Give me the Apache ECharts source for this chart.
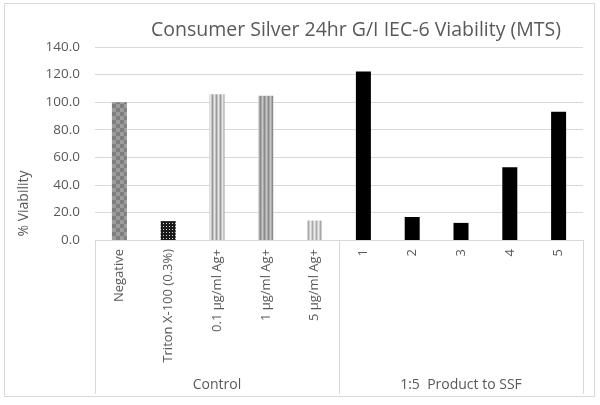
<!DOCTYPE html>
<html>
<head>
<meta charset="utf-8">
<script src="https://cdn.jsdelivr.net/npm/echarts@6/dist/echarts.min.js"></script>
<style>
html,body{margin:0;padding:0;background:#fff;}
#frame{position:absolute;left:4px;top:3px;width:591px;height:394px;border:1px solid #d9d9d9;box-sizing:border-box;}
#chart{position:absolute;left:0;top:0;width:600px;height:405px;}
</style>
</head>
<body>
<div id="frame"></div>
<div id="chart"></div>
<script>
var title = 'Consumer Silver 24hr G/I IEC-6 Viability (MTS)';
var yAxisName = '% Viability';
var categories = ['Negative', 'Triton X-100 (0.3%)', '0.1 \u00b5g/ml Ag+', '1 \u00b5g/ml Ag+', '5 \u00b5g/ml Ag+', '1', '2', '3', '4', '5'];
var groups = ['Control', '1:5  Product to SSF'];
var values = [100.0, 13.7, 105.8, 104.6, 14.1, 122.2, 16.7, 12.4, 52.7, 93.0];
var yTicks = [0, 20, 40, 60, 80, 100, 120, 140];

function makePattern(w, h, draw) {
  var c = document.createElement('canvas');
  c.width = w; c.height = h;
  var ctx = c.getContext('2d');
  draw(ctx);
  return { image: c, repeat: 'repeat' };
}
var patterns = [
  makePattern(8, 8, function (ctx) {
    ctx.fillStyle = '#9c9c9c'; ctx.fillRect(0, 0, 8, 8);
    ctx.fillStyle = '#7e7e7e'; ctx.fillRect(0, 0, 4, 4); ctx.fillRect(4, 4, 4, 4);
  }),
  makePattern(3, 3, function (ctx) {
    ctx.fillStyle = '#1a1a1a'; ctx.fillRect(0, 0, 3, 3);
    ctx.fillStyle = '#d8d8d8'; ctx.fillRect(1, 1, 1, 1);
  }),
  makePattern(4, 4, function (ctx) {
    ctx.fillStyle = '#e6e6e6'; ctx.fillRect(0, 0, 4, 4);
    ctx.fillStyle = '#9a9a9a'; ctx.fillRect(0, 0, 1, 4);
    ctx.fillStyle = '#c4c4c4'; ctx.fillRect(1, 0, 1, 4); ctx.fillRect(3, 0, 1, 4);
  }),
  makePattern(4, 4, function (ctx) {
    ctx.fillStyle = '#c8c8c8'; ctx.fillRect(0, 0, 4, 4);
    ctx.fillStyle = '#8a8a8a'; ctx.fillRect(0, 0, 1, 4);
    ctx.fillStyle = '#a8a8a8'; ctx.fillRect(1, 0, 1, 4); ctx.fillRect(3, 0, 1, 4);
  }),
  makePattern(4, 4, function (ctx) {
    ctx.fillStyle = '#ebebeb'; ctx.fillRect(0, 0, 4, 4);
    ctx.fillStyle = '#a8a8a8'; ctx.fillRect(0, 0, 1, 4);
    ctx.fillStyle = '#cfcfcf'; ctx.fillRect(1, 0, 1, 4); ctx.fillRect(3, 0, 1, 4);
  })
];

var seriesData = values.map(function (v, i) {
  return { value: v, itemStyle: { color: i < patterns.length ? patterns[i] : '#000000' } };
});

var chart = echarts.init(document.getElementById('chart'), null, { renderer: 'canvas' });
var txt = '#595959';
chart.setOption({
  animation: false,
  backgroundColor: 'transparent',
  title: {
    text: title,
    left: 351, top: 15, textAlign: 'center',
    textStyle: { fontFamily: 'Open Sans', fontWeight: 'normal', fontSize: 19.5, color: txt }
  },
  grid: { left: 95, right: 17, top: 47, bottom: 165, containLabel: false },
  xAxis: [
    {
      type: 'category', data: categories, position: 'bottom',
      axisLine: { show: true, lineStyle: { color: '#d9d9d9', width: 1 } },
      axisTick: { show: false },
      axisLabel: { rotate: 90, interval: 0, margin: 9, color: txt, fontSize: 13, fontFamily: 'Open Sans' }
    },
    {
      type: 'category', data: groups, position: 'bottom',
      axisLine: { show: false },
      axisTick: { show: true, length: 154, alignWithLabel: false, lineStyle: { color: '#d9d9d9', width: 1 } },
      axisLabel: { interval: 0, margin: 138, color: txt, fontSize: 14, fontFamily: 'Open Sans' }
    }
  ],
  yAxis: {
    type: 'value', min: 0, max: 140, interval: 20,
    name: yAxisName, nameLocation: 'middle', nameGap: 64, nameRotate: 90,
    nameTextStyle: { color: txt, fontSize: 14, fontFamily: 'Open Sans', padding: [0, 0, 0, -120] },
    axisLine: { show: false }, axisTick: { show: false },
    axisLabel: { color: txt, fontSize: 13.5, fontFamily: 'Open Sans', margin: 15,
      formatter: function (v) { return yTicks.indexOf(v) >= 0 ? v.toFixed(1) : ''; } },
    splitLine: { lineStyle: { color: '#d9d9d9', width: 1 } }
  },
  series: [{
    type: 'bar', xAxisIndex: 0, data: seriesData, barWidth: 15
  }]
});
</script>
</body>
</html>
